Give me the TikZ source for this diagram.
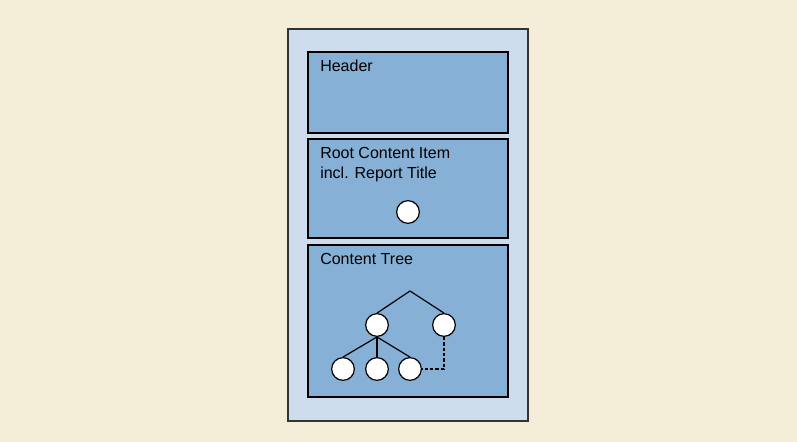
\documentclass[tikz,border=0pt]{standalone}
\usepackage{fontspec}
\setmainfont{Liberation Sans}
\definecolor{paper}{HTML}{F4EDD8}
\definecolor{pagefill}{HTML}{CDDDEE}
\definecolor{partfill}{HTML}{86B0D6}
\definecolor{edge}{HTML}{333333}
\tikzset{
    part/.style={draw=black, line width=1.1pt, fill=partfill},
    item/.style={circle, draw=black, line width=0.9pt, fill=white, minimum size=17pt, inner sep=0pt},
    caption/.style={anchor=base west, inner sep=0pt, font=\fontsize{12}{14}\selectfont},
    branch/.style={line width=0.9pt}
}
\begin{document}
\begin{tikzpicture}[x=0.75pt, y=-0.75pt]
% Background
\useasboundingbox[fill=paper] (0,0) rectangle (797,442);

% Report page
\draw[draw=edge, line width=1.5pt, fill=pagefill] (288,29) rectangle (528,421);

% Page parts
\draw[part] (308,52) rectangle (508,133);
\draw[part] (308,139) rectangle (508,238);
\draw[part] (308,245) rectangle (508,397);
\node[caption] (header) at (320,72) {Header};
\node[caption] (roottitle) at (320,159) {Root Content Item};
\node[caption] (roottitle2) at (320,179) {incl. Report Title};
\node[caption] (treetitle) at (320,265) {Content Tree};

% Root item
\node[item] (root) at (408,212) {};

% Content tree
\coordinate (apex) at (410,291);
\node[item] (left) at (377,325) {};
\node[item] (right) at (444,325) {};
\foreach \x/\name in {343/leafa, 377/leafb, 410/leafc}
    \node[item] (\name) at (\x,369) {};
\draw[branch] (left.north) -- (apex) -- (right.north);
\foreach \name in {leafa, leafb, leafc}
    \draw[branch] (left.south) -- (\name.north);
\draw[branch, dashed, dash pattern=on 2.5pt off 1.5pt] (right.south) |- (leafc.east);
\end{tikzpicture}
\end{document}
